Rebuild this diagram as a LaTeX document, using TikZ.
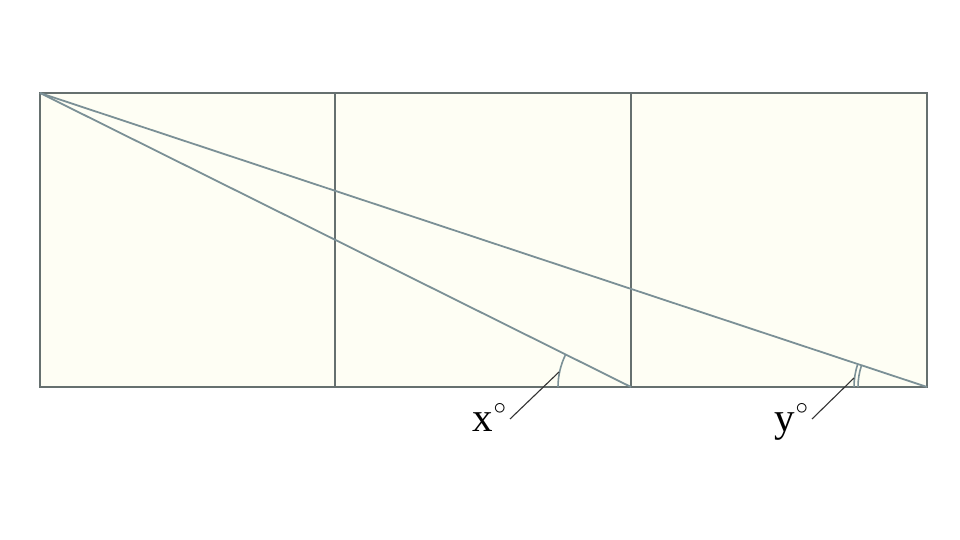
\documentclass[tikz,border=0pt]{standalone}
\usepackage{fontspec}
\setmainfont{Liberation Serif}
\definecolor{sqfill}{HTML}{FEFEF4}
\definecolor{sqline}{HTML}{66706F}
\definecolor{diag}{HTML}{7B9096}
\definecolor{lead}{HTML}{333333}
\newcommand{\degmark}{\hspace{1pt}\raisebox{17pt}{\fontsize{25}{25}\selectfont$\circ$}}
\begin{document}
\begin{tikzpicture}[x=1pt,y=1pt,
  sq/.style={draw=sqline,fill=sqfill,line width=1.4pt},
  dline/.style={draw=diag,line width=1.8pt},
  anglearc/.style={draw=diag,line width=1.6pt},
  leader/.style={draw=lead,line width=1.1pt},
  lbl/.style={font=\fontsize{41}{41}\selectfont,inner sep=0pt,anchor=base west}]
\useasboundingbox (0,0) rectangle (960,540);
\fill[white] (0,0) rectangle (960,540);
\coordinate (A) at (40,447);
\coordinate (C) at (631,153);
\coordinate (D) at (927,153);
\draw[sq] (40,153) rectangle (335,447);
\draw[sq] (335,153) rectangle (631,447);
\draw[sq] (631,153) rectangle (927,447);
\draw[dline] (A) -- (C);
\draw[dline] (A) -- (D);
\draw[anglearc] ([shift={(153.55:73)}]C) arc[start angle=153.55,end angle=180,radius=73];
\draw[anglearc] ([shift={(161.66:73)}]D) arc[start angle=161.66,end angle=180,radius=73];
\draw[anglearc] ([shift={(161.66:69)}]D) arc[start angle=161.66,end angle=180,radius=69];
\node[lbl] (lx) at (472,108) {x\degmark};
\node[lbl] (ly) at (774,108) {y\degmark};
\coordinate (lxa) at (510,121);
\coordinate (lxb) at (559,168);
\coordinate (lya) at (812,121);
\coordinate (lyb) at (854,162);
\draw[leader] (lxa) -- (lxb);
\draw[leader] (lya) -- (lyb);
\end{tikzpicture}
\end{document}
